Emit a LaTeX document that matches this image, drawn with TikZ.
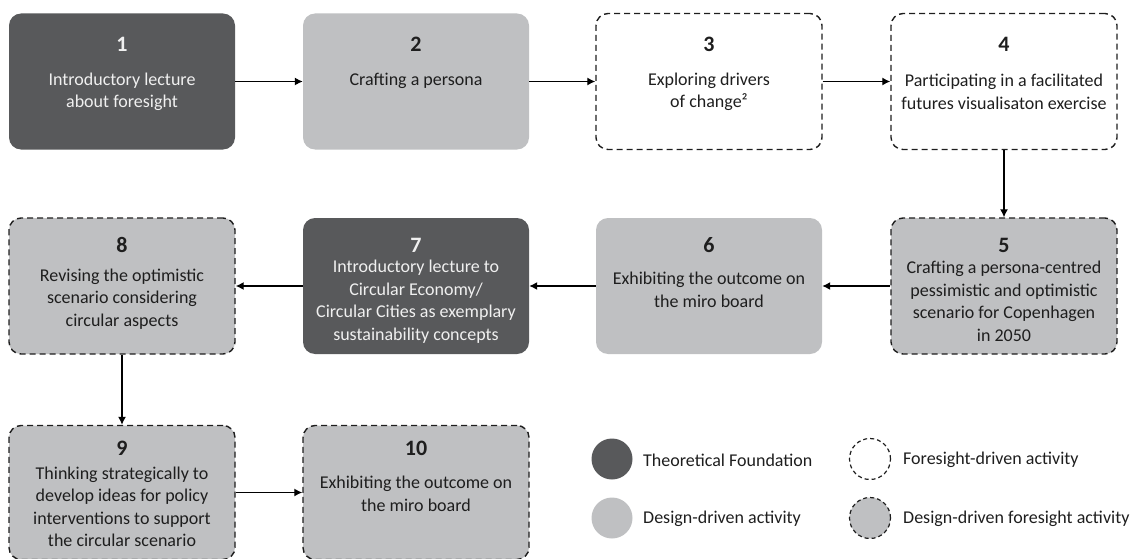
\documentclass[tikz,border=0pt]{standalone}
\usepackage{fontspec}
\setmainfont{Carlito}
\usetikzlibrary{arrows.meta}

\definecolor{theory}{HTML}{58595B}
\definecolor{design}{HTML}{BFC0C2}
\definecolor{ink}{HTML}{1E1E1E}

\begin{document}
\begin{tikzpicture}[x=1pt, y=-1pt,
    actbox/.style={rounded corners=12pt, minimum width=226pt, minimum height=136pt, inner sep=0pt},
    theorybox/.style={actbox, fill=theory},
    designbox/.style={actbox, fill=design},
    foresightbox/.style={actbox, draw=ink, line width=1.4pt, dash pattern=on 6pt off 4pt},
    num/.style={inner sep=0pt, font=\fontsize{22}{26}\selectfont\bfseries, text=ink},
    txt/.style={inner sep=0pt, align=center, font=\fontsize{18}{22.5}\selectfont, text=ink},
    light/.style={text=white!94!black},
    flow/.style={-{Latex[length=8pt,width=8pt]}, line width=1.3pt},
    key/.style={circle, minimum size=41pt, inner sep=0pt}]
    \useasboundingbox (0,0) rectangle (1137,559);

    % first row
    \node[theorybox] (b1) at (122,81.5) {};
    \node[designbox] (b2) at (416,81.5) {};
    \node[foresightbox] (b3) at (709,81.5) {};
    \node[foresightbox] (b4) at (1004,81.5) {};

    \node[num, light] (n1) at (122,44) {1};
    \node[txt, light] (t1) at (122,92) {Introductory lecture\\about foresight};
    \node[num] (n2) at (416,44) {2};
    \node[txt] (t2) at (416,81) {Crafting a persona};
    \node[num] (n3) at (709,44) {3};
    \node[txt] (t3) at (709,92) {Exploring drivers\\of change²};
    \node[num] (n4) at (1004,44) {4};
    \node[txt] (t4) at (1004,92) {Participating in a facilitated\\futures visualisaton exercise};

    % second row, right to left
    \node[foresightbox, fill=design] (b5) at (1004,286) {};
    \node[designbox] (b6) at (709,286) {};
    \node[theorybox] (b7) at (416,286) {};
    \node[foresightbox, fill=design] (b8) at (122,286) {};

    \node[num] (n5) at (1004,245) {5};
    \node[txt] (t5) at (1004,301.5) {Crafting a persona-centred\\pessimistic and optimistic\\scenario for Copenhagen\\in 2050};
    \node[num] (n6) at (709,245) {6};
    \node[txt] (t6) at (709,290) {Exhibiting the outcome on\\the miro board};
    \node[num, light] (n7) at (416,245) {7};
    \node[txt, light] (t7) at (416,301.5) {Introductory lecture to\\Circular Economy/\\Circular Cities as exemplary\\sustainability concepts};
    \node[num] (n8) at (122,245) {8};
    \node[txt] (t8) at (122,299) {Revising the optimistic\\scenario considering\\circular aspects};

    % third row
    \node[foresightbox, fill=design, minimum height=134pt] (b9) at (122,492.5) {};
    \node[foresightbox, fill=design, minimum height=134pt] (b10) at (416,492.5) {};

    \node[num] (n9) at (122,448) {9};
    \node[txt] (t9) at (122,507) {Thinking strategically to\\develop ideas for policy\\interventions to support\\the circular scenario};
    \node[num] (n10) at (416,448) {10};
    \node[txt] (t10) at (416,494) {Exhibiting the outcome on\\the miro board};

    % flow of the steps
    \draw[flow] (b1) -- (b2);
    \draw[flow] (b2) -- (b3);
    \draw[flow] (b3) -- (b4);
    \draw[flow] (b4) -- (b5);
    \draw[flow] (b5) -- (b6);
    \draw[flow] (b6) -- (b7);
    \draw[flow] (b7) -- (b8);
    \draw[flow] (b8) -- (b9);
    \draw[flow] (b9) -- (b10);

    % legend
    \node[key, fill=theory] (k1) at (612,459) {};
    \node[txt, anchor=west] (l1) at (643,460) {Theoretical Foundation};
    \node[key, fill=design] (k2) at (612,518) {};
    \node[txt, anchor=west] (l2) at (643,519) {Design-driven activity};
    \node[key, draw=ink, line width=1.2pt, dash pattern=on 4pt off 3pt] (k3) at (870,459) {};
    \node[txt, anchor=west] (l3) at (903,460) {Foresight-driven activity};
    \node[key, fill=design, draw=ink, line width=1.2pt, dash pattern=on 4pt off 3pt] (k4) at (870,518) {};
    \node[txt, anchor=west] (l4) at (903,519) {Design-driven foresight activity};
\end{tikzpicture}
\end{document}
